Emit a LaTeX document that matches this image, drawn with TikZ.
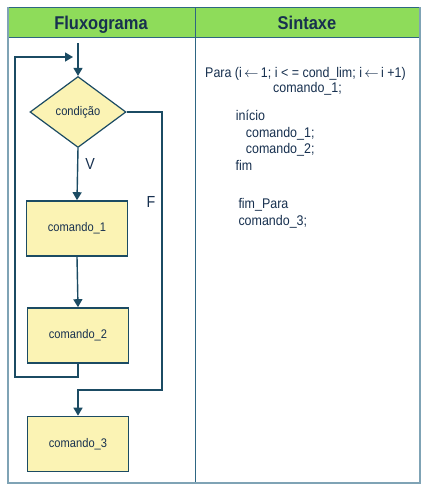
\documentclass[tikz,border=0pt]{standalone}
\usepackage{fontspec}
\setmainfont{Liberation Sans}[FakeStretch=0.89]
\usetikzlibrary{arrows.meta,shapes.geometric}
\definecolor{hdr}{HTML}{8EDC5A}
\definecolor{ln}{HTML}{1B4B63}
\definecolor{frame}{HTML}{2E6682}
\definecolor{outer}{HTML}{7FA3B5}
\definecolor{boxfill}{HTML}{FBF3B4}
\definecolor{txt}{HTML}{17304F}
\newcommand{\larr}{\,$\leftarrow$\,}
\tikzset{
  cmdbox/.style={draw=ln, line width=1.6pt, fill=boxfill, minimum width=101pt, minimum height=55pt, inner sep=0pt, font=\fontsize{12.5}{14}\selectfont, text=txt},
  decision/.style={diamond, draw=ln, line width=1.2pt, fill=boxfill, minimum width=96pt, minimum height=71pt, inner sep=0pt, aspect=1.35, font=\fontsize{12.5}{14}\selectfont, text=txt},
  conn/.style={draw=ln, line width=1.4pt},
  arr/.style={conn, -{Triangle[width=9pt,length=8pt]}},
  code/.style={anchor=base west, inner sep=0pt, font=\fontsize{14}{16}\selectfont, text=txt},
  lbl/.style={inner sep=0pt, font=\fontsize{16}{18}\selectfont, text=txt},
  head/.style={anchor=base, inner sep=0pt, font=\bfseries\fontsize{18.5}{20}\selectfont, text=txt}
}
\begin{document}
\begin{tikzpicture}[x=1pt,y=-1pt]
\useasboundingbox (0,0) rectangle (427,490);
\fill[white] (0,0) rectangle (427,490);
% header
\fill[hdr] (8,7) rectangle (420,37);
\draw[frame, line width=1pt] (8,37) -- (420,37);
\draw[frame, line width=1pt] (195,7) -- (195,483);
\draw[frame, line width=1pt] (8,7) -- (420,7);
\draw[outer, line width=1.2pt] (8,7) -- (8,483) -- (420,483) -- (420,7);
\node[head] (h1) at (101,29) {Fluxograma};
\node[head] (h2) at (307,29) {Sintaxe};
% flowchart
\coordinate (in) at (78,43);
\node[decision] (cond) at (78,112) {condição};
\node[cmdbox] (c1) at (77,228.5) {comando\_1};
\node[cmdbox] (c2) at (78,335.5) {comando\_2};
\node[cmdbox] (c3) at (78,444) {comando\_3};
\draw[arr] (in) -- (cond.north);
\draw[arr] (cond.south) -- (c1.north);
\draw[arr] (c1.south) -- (c2.north);
\coordinate (lp1) at (78,377);
\coordinate (lp2) at (15,377);
\coordinate (lp3) at (15,57);
\coordinate (lp4) at (73,57);
\draw[arr] (c2.south) -- (lp1) -- (lp2) -- (lp3) -- (lp4);
\coordinate (f1) at (162,112);
\coordinate (f2) at (162,390);
\coordinate (f3) at (78,390);
\draw[arr] (cond.east) -- (f1) -- (f2) -- (f3) -- (c3.north);
\node[lbl] (v) at (90,164) {V};
\node[lbl] (f) at (151,202) {F};
% code
\node[code] (l1) at (205,77) {Para (i\larr 1; i < = cond\_lim; i\larr i +1)};
\node[code] (l2) at (273,92.7) {comando\_1;};
\node[code] (l3) at (235.7,120.7) {início};
\node[code] (l4) at (245.7,137.3) {comando\_1;};
\node[code] (l5) at (245.7,153) {comando\_2;};
\node[code] (l6) at (235.5,170.7) {fim};
\node[code] (l7) at (238.3,208.3) {fim\_Para};
\node[code] (l8) at (238.3,225) {comando\_3;};
\end{tikzpicture}
\end{document}
